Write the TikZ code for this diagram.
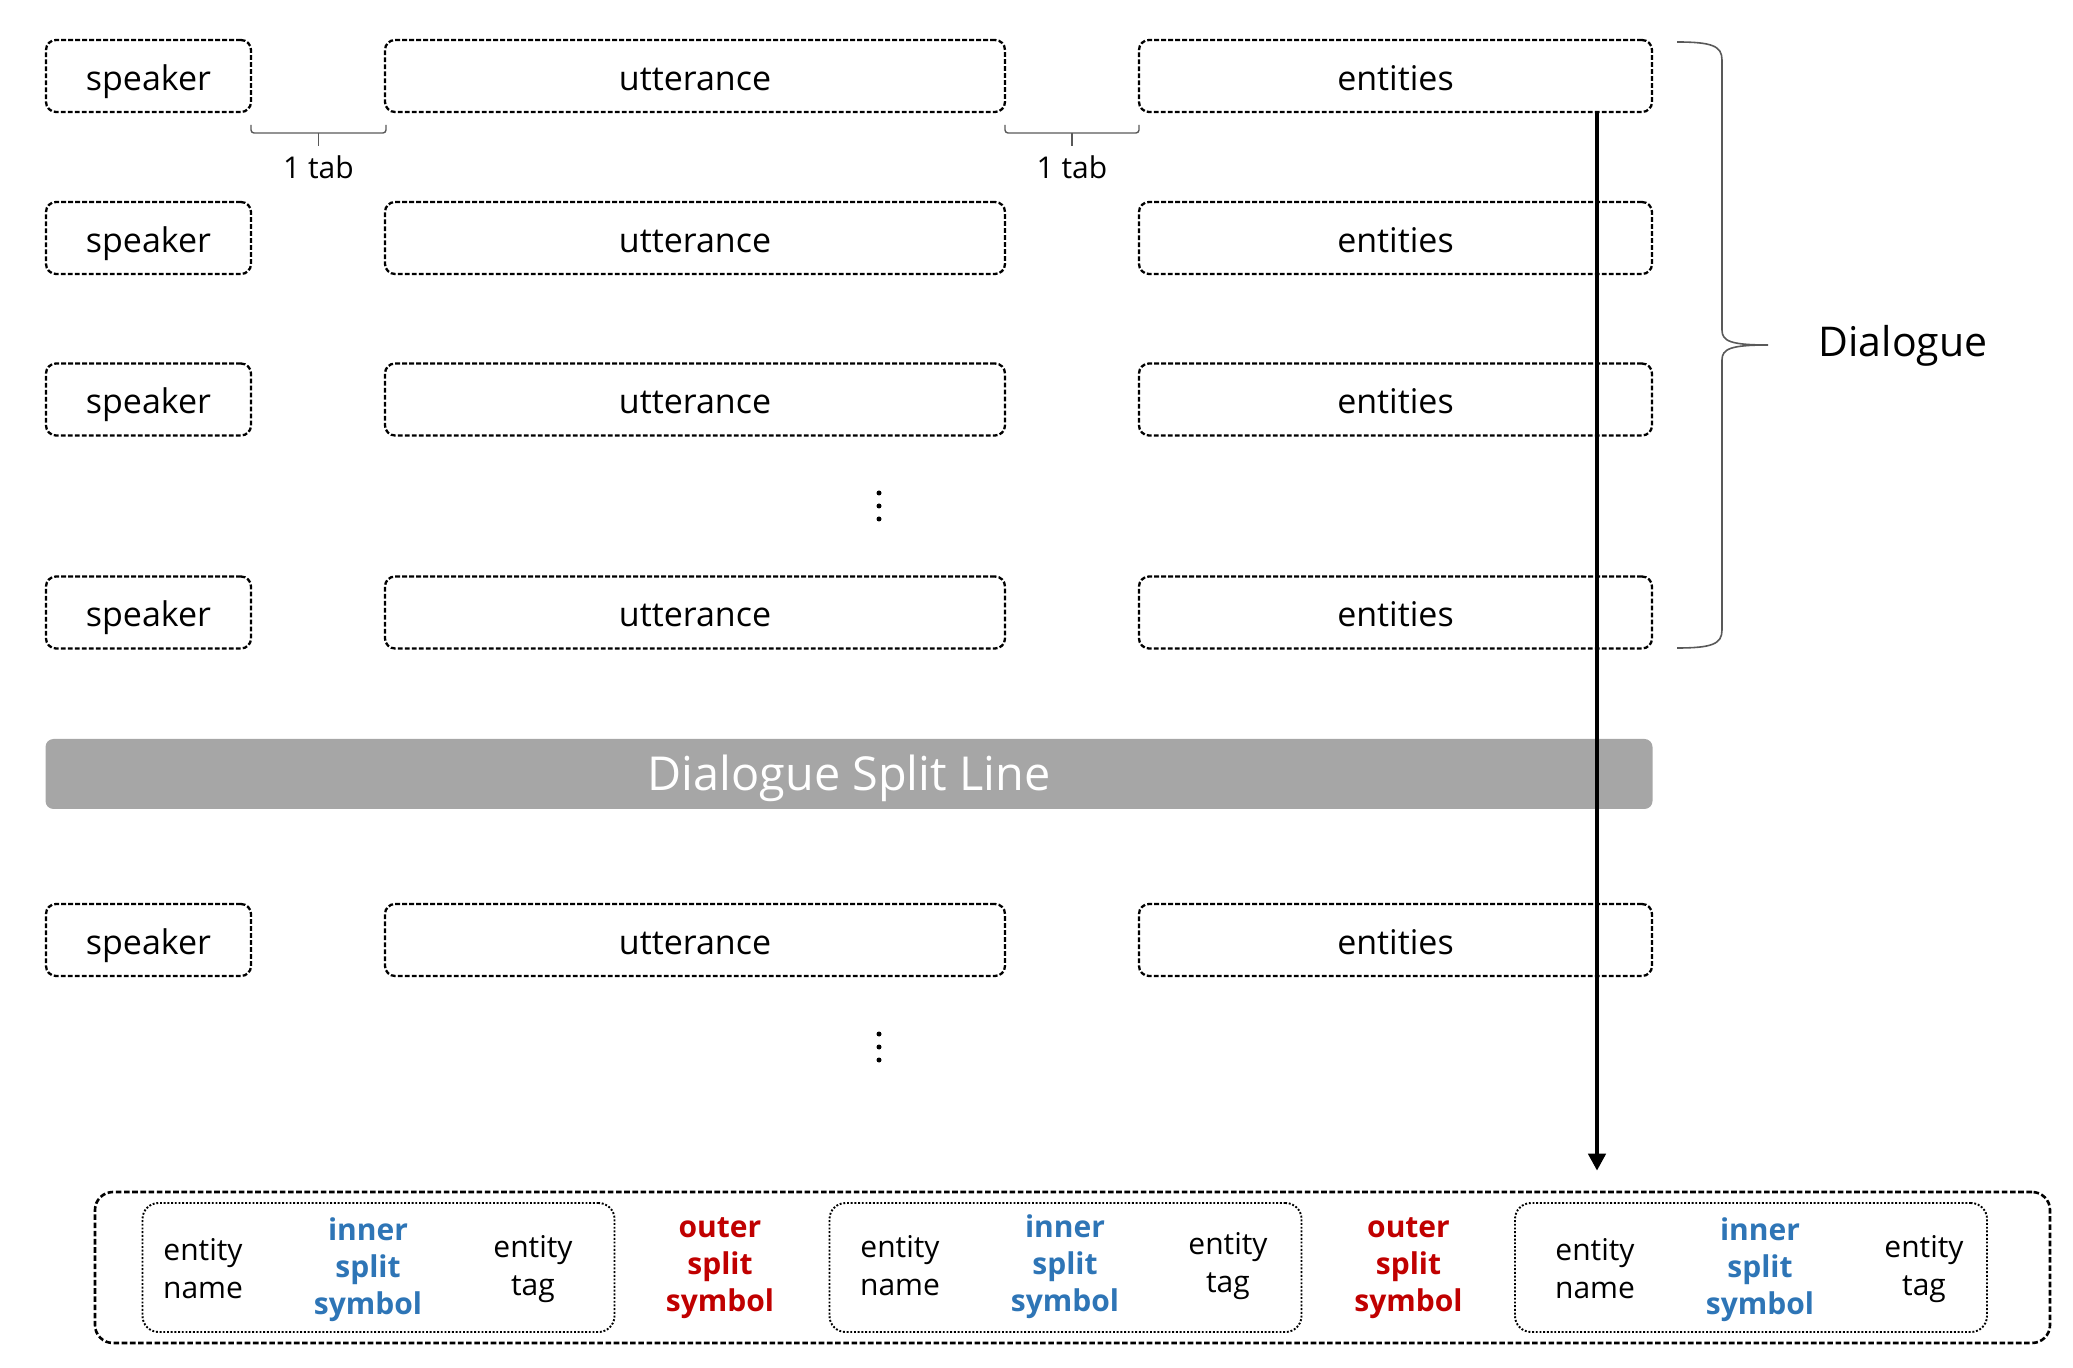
\documentclass[tikz,border=0pt]{standalone}
\usepackage{fontspec}
\setmainfont{Open Sans}
\usetikzlibrary{arrows.meta,calc}
\definecolor{splitgray}{HTML}{A6A6A6}
\definecolor{innerblue}{HTML}{2E75B6}
\definecolor{outerred}{HTML}{C00000}
\definecolor{bracegray}{HTML}{595959}
\begin{document}
\begin{tikzpicture}[x=0.5pt,y=-0.5pt,
  dbox/.style={draw, line width=1.15pt, dash pattern=on 2.4pt off 1.1pt, rounded corners=5pt,
    minimum height=36pt, inner sep=0pt, text height=14.2pt, text depth=0pt,
    font=\fontsize{17}{20}\selectfont},
  spk/.style={dbox, minimum width=102.5pt},
  utt/.style={dbox, minimum width=310pt},
  ent/.style={dbox, minimum width=256.5pt},
  brc/.style={draw=bracegray, line width=0.7pt, rounded corners=1.5pt},
  tablabel/.style={font=\fontsize{15}{17}\selectfont, inner sep=0pt},
  outerbox/.style={draw, line width=1.3pt, dash pattern=on 2.8pt off 1.3pt, rounded corners=9pt,
    minimum width=977.5pt, minimum height=75.5pt, inner sep=0pt},
  innerbox/.style={draw, line width=0.95pt, dash pattern=on 0.95pt off 0.9pt, rounded corners=8pt,
    minimum width=236pt, minimum height=64.5pt, inner sep=0pt},
  txt/.style={align=center, inner sep=0pt, font=\fontsize{15}{19}\selectfont},
  bluet/.style={txt, text=innerblue, font=\fontsize{15}{18.5}\selectfont\bfseries},
  redt/.style={txt, text=outerred, font=\fontsize{15}{18.5}\selectfont\bfseries},
  flow/.style={draw, line width=2.4pt, -{Triangle[length=8.5pt,width=8.5pt]}}
  ]
\useasboundingbox (0,0) rectangle (2073,1368);

% rows
\foreach \r/\yy in {1/76,2/238,3/399.5,4/612.5,5/940}{
  \node[spk] (s\r) at (148.5,\yy) {speaker};
  \node[utt] (u\r) at (695,\yy) {utterance};
  \node[ent] (e\r) at (1395.5,\yy) {entities};
}

% 1 tab braces
\draw[brc] (251,125) -- (251,133) -- (386,133) -- (386,125);
\draw[brc] (318.5,133) -- (318.5,146);
\node[tablabel] (tab1) at (318.5,167) {1 tab};
\draw[brc] (1005,125) -- (1005,133) -- (1139,133) -- (1139,125);
\draw[brc] (1072,133) -- (1072,146);
\node[tablabel] (tab2) at (1072,167) {1 tab};

% big brace
\draw[bracegray, line width=0.8pt]
  (1677,42) .. controls (1712,42) and (1722,46) .. (1722,60) -- (1722,330)
  .. controls (1722,341) and (1730,345) .. (1768,345)
  .. controls (1730,345) and (1722,349) .. (1722,360) -- (1722,630)
  .. controls (1722,644) and (1712,648) .. (1677,648);
\node[font=\fontsize{20.5}{24}\selectfont, inner sep=0pt] (dlg) at (1903,346) {Dialogue};

% vertical dots
\foreach \dy in {-13,0,13}{
  \fill (879,{506+\dy}) circle (1.25pt);
  \fill (879,{1047+\dy}) circle (1.25pt);
}

% split line
\node[fill=splitgray, rounded corners=4pt, minimum width=803.5pt, minimum height=35pt,
  inner sep=0pt, text height=16.7pt, text depth=0pt, text=white,
  font=\fontsize{23.4}{26}\selectfont] (split) at (849,774) {Dialogue Split Line};

% bottom entity format
\node[outerbox] (ob) at (1072.5,1267.5) {};
\node[innerbox] (ib1) at (378.5,1267.5) {};
\node[innerbox] (ib2) at (1065.5,1267.5) {};
\node[innerbox] (ib3) at (1751,1267.5) {};

\node[txt] (n1) at (203,1269) {entity\\name};
\node[bluet] (i1) at (368,1270) {inner\\split\\symbol};
\node[txt] (g1) at (533,1269) {entity\\tag};
\node[redt] (o1) at (720,1268) {outer\\split\\symbol};
\node[txt] (n2) at (900,1266) {entity\\name};
\node[bluet] (i2) at (1065,1267) {inner\\split\\symbol};
\node[txt] (g2) at (1228,1266) {entity\\tag};
\node[redt] (o2) at (1408.5,1268) {outer\\split\\symbol};
\node[txt] (n3) at (1595,1269) {entity\\name};
\node[bluet] (i3) at (1760,1270) {inner\\split\\symbol};
\node[txt] (g3) at (1924,1269) {entity\\tag};

% arrow
\coordinate (ax) at (1597,0);
\draw[flow] (e1.south -| ax) -- ($(ob.north -| ax)+(0,-20)$);
\end{tikzpicture}
\end{document}
